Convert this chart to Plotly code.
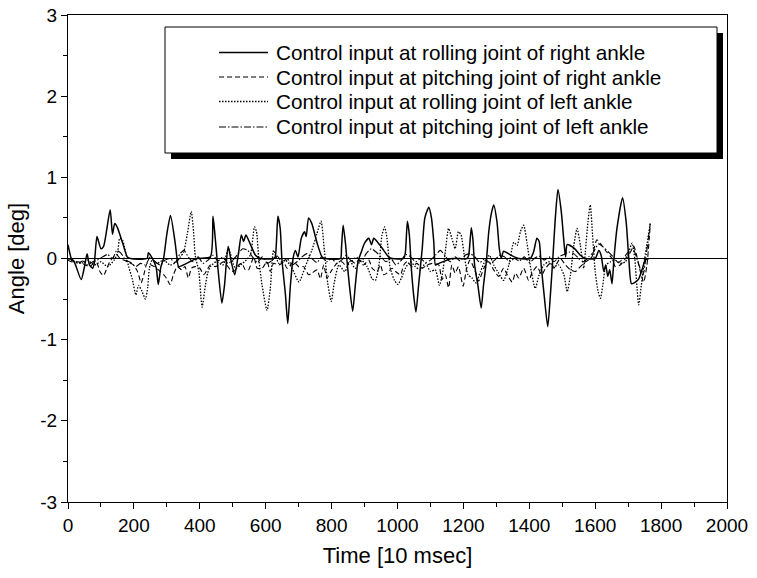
import plotly.graph_objects as go

# ---------------- data ----------------
# Control input at rolling joint of right ankle (solid)
t_roll_r = [0, 10, 20, 40, 50, 58, 65, 75, 80, 88, 100, 108, 128, 135, 142, 150, 165, 180, 190,
            240, 244, 252, 262, 268, 274, 282, 290, 300, 311, 325, 331, 336, 390,
            432, 440, 446, 455, 467, 475, 486, 496, 506, 518, 526, 533, 540, 554, 569, 584,
            624, 629, 637, 644, 649, 660, 667, 675, 683, 690, 698, 708, 718, 723, 730, 740, 756, 771, 781,
            827, 830, 835, 842, 847, 854, 864, 872, 880, 890, 900, 913, 921, 928, 938, 953, 973, 984,
            1019, 1024, 1030, 1036, 1042, 1049, 1056, 1064, 1075, 1083, 1095, 1103, 1110, 1115, 1120, 1165,
            1211, 1216, 1224, 1229, 1234, 1244, 1254, 1261, 1270, 1277, 1285, 1292, 1302, 1309, 1315, 1322,
            1345, 1368, 1403, 1413, 1423, 1430, 1436, 1445, 1456, 1464, 1472, 1479, 1487, 1497, 1505, 1510,
            1515, 1535, 1555, 1570, 1600, 1611, 1618, 1626, 1632, 1638, 1644, 1651, 1657, 1666, 1683, 1694,
            1702, 1710, 1722, 1732, 1742, 1752, 1763]
v_roll_r = [0.17, 0.0, -0.05, -0.26, -0.1, 0.06, -0.08, -0.12, -0.05, 0.27, 0.12, 0.15, 0.6, 0.3, 0.43, 0.38, 0.2, 0.02, 0.0,
            0.0, 0.07, 0.03, -0.05, -0.12, -0.32, -0.1, 0.0, 0.3, 0.53, 0.2, 0.0, -0.1, 0.0,
            0.02, 0.52, 0.29, -0.12, -0.55, -0.33, 0.15, -0.05, -0.2, 0.08, 0.29, 0.21, 0.29, 0.17, 0.04, 0.0,
            0.0, 0.02, 0.52, 0.37, 0.0, -0.45, -0.8, -0.33, 0.0, 0.1, 0.02, 0.25, 0.33, 0.27, 0.5, 0.43, 0.19, 0.02, 0.0,
            0.0, 0.13, 0.41, 0.19, -0.04, -0.33, -0.65, -0.33, -0.04, 0.08, 0.19, 0.25, 0.17, 0.25, 0.21, 0.13, 0.02, 0.0,
            0.0, 0.08, 0.46, 0.29, -0.12, -0.45, -0.66, -0.33, 0.12, 0.5, 0.63, 0.5, 0.21, -0.08, -0.07, 0.0,
            0.0, 0.04, 0.38, 0.23, -0.08, -0.33, -0.61, -0.33, -0.02, 0.33, 0.56, 0.66, 0.45, 0.12, 0.0, 0.09,
            0.04, 0.0, 0.0, 0.08, 0.25, 0.21, -0.08, -0.45, -0.84, -0.45, 0.04, 0.5, 0.85, 0.58, 0.21, 0.02,
            0.17, 0.13, 0.04, 0.0, 0.0, 0.1, 0.04, -0.16, -0.08, -0.22, -0.14, -0.31, 0.0, 0.37, 0.75, 0.45,
            0.0, -0.31, -0.29, -0.25, -0.14, -0.02, 0.0]

# Control input at pitching joint of right ankle (dashed)
t_pitch_r = [0, 10, 30, 40, 52, 68, 78, 88, 98, 108, 118, 128, 139, 147, 158, 169, 184, 199, 212, 222,
             230, 240, 252, 262, 280, 290, 300, 310, 320, 332, 345, 355, 365, 375, 386, 400, 412, 422,
             432, 447, 463, 473, 493, 503, 518, 528, 538, 548, 564, 574, 589, 604, 614, 624, 640, 655,
             665, 685, 700, 715, 730, 740, 756, 766, 776, 786, 801, 816, 831, 846, 856, 872, 882, 897,
             913, 923, 938, 948, 958, 968, 984, 994, 1009, 1019, 1029, 1044, 1059, 1075, 1090, 1105,
             1125, 1135, 1145, 1155, 1165, 1175, 1185, 1199, 1210, 1220, 1236, 1246, 1262, 1277, 1292,
             1307, 1322, 1333, 1348, 1358, 1368, 1383, 1398, 1408, 1423, 1438, 1449, 1464, 1474, 1494,
             1510, 1525, 1540, 1555, 1570, 1580, 1590, 1605, 1620, 1635, 1651, 1661, 1676, 1692, 1707,
             1717, 1727, 1737, 1747, 1757, 1767]
v_pitch_r = [-0.02, -0.04, -0.04, -0.05, -0.08, -0.1, -0.05, -0.06, -0.17, -0.21, -0.12, -0.03, 0.02, 0.05, 0.0, -0.02, -0.05, -0.08, -0.17, -0.3,
             -0.2, -0.06, -0.08, -0.1, -0.16, -0.2, -0.25, -0.32, -0.2, -0.1, -0.14, -0.1, -0.24, -0.12, -0.1, -0.12, -0.2, -0.14,
             -0.08, -0.1, -0.06, -0.04, -0.14, -0.16, -0.08, -0.06, -0.14, -0.14, 0.02, -0.12, -0.12, -0.04, -0.16, -0.06, -0.08, -0.05,
             -0.12, -0.04, -0.1, -0.1, -0.2, -0.18, -0.14, -0.25, -0.08, -0.24, -0.14, -0.06, -0.04, -0.1, -0.02, -0.06, -0.02, -0.08,
             -0.02, -0.12, -0.16, -0.08, -0.2, -0.18, -0.12, -0.16, -0.2, -0.08, -0.04, -0.1, -0.06, -0.12, -0.08, -0.06,
             -0.08, -0.26, -0.2, -0.36, -0.08, -0.18, -0.1, -0.34, -0.12, -0.02, -0.16, -0.28, -0.12, -0.04, -0.14,
             -0.22, -0.12, -0.2, -0.29, -0.18, -0.24, -0.12, -0.27, -0.18, -0.1, -0.2, -0.12, -0.06, -0.12, 0.0,
             -0.08, -0.14, -0.16, -0.1, -0.04, -0.02, 0.02, 0.23, 0.16, 0.08, 0.0, -0.1, -0.08, 0.0, 0.08,
             0.15, 0.02, -0.16, -0.29, -0.08, 0.41]

# Control input at rolling joint of left ankle (dotted)
t_roll_l = [0, 20, 40, 60, 80, 100, 120, 140, 150, 157, 166, 184, 195, 206, 214, 224, 235, 242, 247,
            255, 270, 290, 310, 330, 341, 351, 362, 374, 381, 386, 397, 407, 417, 424, 432, 450, 470,
            487, 508, 530, 553, 566, 572, 579, 589, 604, 614, 624, 640, 660, 680, 701, 720, 740, 755,
            768, 778, 788, 799, 808, 822, 840, 856, 872, 890, 908, 923, 933, 943, 953, 961, 968, 978,
            991, 1001, 1012, 1024, 1039, 1054, 1069, 1085, 1100, 1115, 1127, 1136, 1145, 1155, 1165,
            1175, 1185, 1193, 1204, 1214, 1226, 1238, 1252, 1267, 1279, 1292, 1307, 1322, 1338, 1353,
            1363, 1373, 1383, 1393, 1406, 1418, 1430, 1444, 1459, 1474, 1489, 1505, 1515, 1525, 1535,
            1545, 1555, 1565, 1570, 1578, 1585, 1592, 1600, 1609, 1616, 1623, 1633, 1647, 1661, 1676,
            1692, 1702, 1712, 1720, 1727, 1732, 1740, 1750, 1758, 1767]
v_roll_l = [0.0, -0.04, -0.06, -0.02, -0.08, -0.04, -0.1, -0.02, 0.06, 0.25, 0.22, -0.1, -0.25, -0.45, -0.33, -0.4, -0.5, -0.35, -0.12,
            -0.02, -0.06, -0.02, -0.08, -0.04, 0.02, 0.08, 0.3, 0.58, 0.33, 0.04, -0.16, -0.6, -0.33, -0.18, -0.1, -0.04, -0.08,
            0.12, -0.12, -0.06, 0.04, 0.39, 0.33, 0.0, -0.33, -0.64, -0.37, 0.1, -0.06, -0.02, -0.12, -0.29, -0.1, 0.1, 0.3,
            0.46, 0.1, -0.3, -0.53, -0.3, -0.08, -0.16, -0.04, -0.12, -0.02, -0.1, -0.25, -0.27, -0.1, 0.29, 0.39, 0.25, -0.12,
            -0.27, -0.32, -0.24, -0.12, -0.04, -0.1, -0.14, -0.06, -0.16, -0.14, -0.33, -0.2, 0.08, 0.37, 0.25,
            0.12, 0.33, 0.29, 0.0, -0.2, -0.24, -0.3, -0.16, -0.02, 0.04, -0.08, -0.18, -0.27, -0.08, 0.2,
            0.16, 0.33, 0.41, 0.19, -0.16, -0.37, -0.2, -0.08, -0.04, -0.1, -0.08, -0.2, -0.41, -0.2, 0.16,
            0.37, 0.16, -0.12, 0.08, 0.45, 0.66, 0.29, -0.16, -0.41, -0.49, -0.33, -0.08, -0.04, -0.02, -0.06,
            -0.04, 0.08, 0.19, 0.0, -0.37, -0.57, -0.33, 0.0, 0.2, 0.43]

# Control input at pitching joint of left ankle (dash-dot)
t_pitch_l = [0, 15, 30, 45, 60, 75, 90, 105, 120, 135, 148, 160, 175, 190, 205, 220, 235, 250, 265, 280,
             295, 310, 325, 340, 352, 365, 380, 395, 410, 425, 440, 455, 470, 485, 500, 515, 530, 545, 560,
             575, 590, 605, 620, 635, 650, 665, 680, 695, 710, 725, 740, 755, 770, 785, 800, 815, 830, 845,
             860, 875, 890, 905, 920, 935, 950, 965, 980, 995, 1010, 1025, 1040, 1055, 1070, 1085, 1100,
             1115, 1130, 1145, 1160, 1175, 1190, 1205, 1220, 1235, 1250, 1265, 1280, 1295, 1310, 1325,
             1340, 1355, 1370, 1385, 1400, 1415, 1430, 1445, 1460, 1475, 1490, 1505, 1520, 1535, 1550,
             1565, 1580, 1595, 1610, 1625, 1640, 1655, 1670, 1685, 1700, 1715, 1730, 1745, 1755, 1767]
v_pitch_l = [0.0, -0.02, -0.06, -0.03, -0.08, -0.04, -0.02, 0.02, 0.05, 0.0, 0.1, 0.07, -0.02, -0.05, -0.1, -0.06, -0.08, 0.02, -0.04, -0.08,
             -0.02, 0.0, -0.05, 0.06, 0.1, 0.02, -0.04, 0.02, -0.06, -0.02, 0.04, -0.03, 0.02, -0.06, -0.02, 0.05, 0.12, 0.1, 0.02,
             -0.05, 0.02, -0.06, -0.02, 0.03, -0.05, 0.0, -0.08, -0.04, 0.02, 0.06, 0.0, -0.05, 0.02, -0.04, 0.0, -0.06, -0.02, 0.04,
             -0.03, 0.02, -0.04, 0.06, 0.12, 0.08, 0.02, -0.04, 0.0, -0.08, -0.03, 0.05, 0.02, -0.04, 0.0, -0.05, -0.02,
             0.04, 0.1, 0.03, -0.04, 0.02, -0.03, 0.04, 0.06, 0.02, -0.05, 0.0, -0.06, -0.02, 0.04, 0.02,
             -0.04, 0.0, -0.03, 0.02, -0.05, 0.0, 0.03, -0.02, 0.02, -0.04, 0.02, 0.05, 0.08, 0.06, 0.0,
             -0.04, 0.02, 0.08, 0.18, 0.14, 0.08, 0.02, -0.05, 0.0, 0.08, 0.12, -0.05, -0.2, 0.05, 0.43]

series_names = [
    "Control input at rolling joint of right ankle",
    "Control input at pitching joint of right ankle",
    "Control input at rolling joint of left ankle",
    "Control input at pitching joint of left ankle",
]

x_ticks = [0, 200, 400, 600, 800, 1000, 1200, 1400, 1600, 1800, 2000]
y_ticks = [-3, -2, -1, 0, 1, 2, 3]

# ---------------- styling ----------------
FONT = "Liberation Sans, Arial, sans-serif"
W, H = 757, 578
L, R, T, B = 68, 30, 15, 76
styles = [
    dict(dash="solid", width=1.5),
    dict(dash="5px,3px", width=1.1),
    dict(dash="1.5px,1.5px", width=1.3),
    dict(dash="7px,2px,1.5px,2px", width=1.1),
]
series = [(t_roll_r, v_roll_r), (t_pitch_r, v_pitch_r), (t_roll_l, v_roll_l), (t_pitch_l, v_pitch_l)]

fig = go.Figure()
for (tx, vy), st, name in zip(series, styles, series_names):
    fig.add_trace(go.Scatter(x=tx, y=vy, mode="lines", name=name, showlegend=False,
                             line=dict(color="black", width=st["width"], dash=st["dash"],
                                       shape="spline", smoothing=0.6)))

pw, ph = W - L - R, H - T - B


def px(x):
    return (x - L) / pw


def py(y):
    return (H - B - y) / ph


# legend box with drop shadow, drawn in paper coordinates
box = dict(x0=165, x1=717, y0=27, y1=153)
shadow = 6
shapes = [
    dict(type="rect", xref="paper", yref="paper", layer="above",
         x0=px(box["x0"] + shadow), x1=px(box["x1"] + shadow),
         y0=py(box["y1"] + shadow), y1=py(box["y0"] + shadow),
         fillcolor="black", line=dict(width=0)),
    dict(type="rect", xref="paper", yref="paper", layer="above",
         x0=px(box["x0"]), x1=px(box["x1"]), y0=py(box["y1"]), y1=py(box["y0"]),
         fillcolor="white", line=dict(color="black", width=1)),
]
annotations = []
rows = [52.5, 77, 101.5, 127]
for row, st, name in zip(rows, styles, series_names):
    shapes.append(dict(type="line", xref="paper", yref="paper", layer="above",
                       x0=px(219), x1=px(268), y0=py(row), y1=py(row),
                       line=dict(color="black", width=st["width"], dash=st["dash"])))
    annotations.append(dict(text=name, xref="paper", yref="paper", x=px(274), y=py(row),
                            xanchor="left", yanchor="middle", showarrow=False,
                            font=dict(family=FONT, size=20.7, color="black")))

fig.update_layout(
    width=W, height=H,
    margin=dict(l=L, r=R, t=T, b=B, pad=0),
    paper_bgcolor="white", plot_bgcolor="white",
    font=dict(family=FONT, size=19, color="black"),
    shapes=shapes, annotations=annotations,
    showlegend=False,
)
fig.update_xaxes(
    range=[0, 2000], tickvals=x_ticks, ticktext=[str(v) for v in x_ticks], automargin=False,
    showgrid=False, zeroline=False, showline=True, linecolor="black", linewidth=1, mirror=True,
    ticks="outside", ticklen=6, tickcolor="black",
    minor=dict(dtick=100, ticks="outside", ticklen=4, tickcolor="black", showgrid=False),
    title=dict(text="Time [10 msec]", font=dict(size=22), standoff=12),
)
fig.update_yaxes(
    range=[-3, 3], tickvals=y_ticks, ticktext=[str(v) for v in y_ticks], automargin=False,
    showgrid=False, zeroline=True, zerolinecolor="black", zerolinewidth=1,
    showline=True, linecolor="black", linewidth=1, mirror=True,
    ticks="outside", ticklen=6, tickcolor="black",
    minor=dict(dtick=0.5, ticks="outside", ticklen=4, tickcolor="black", showgrid=False),
    title=dict(text="Angle [deg]", font=dict(size=22), standoff=9),
)

fig.write_html("out.html")
